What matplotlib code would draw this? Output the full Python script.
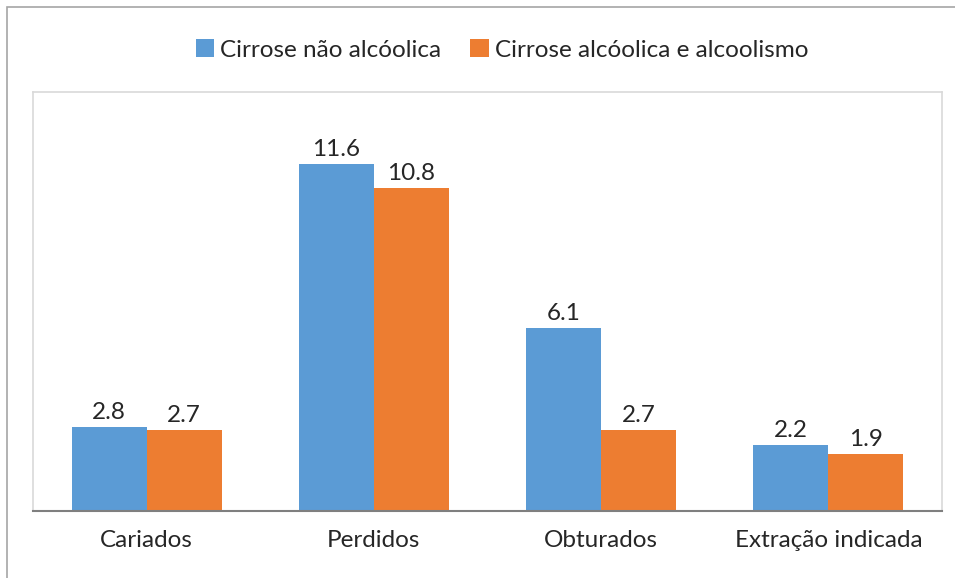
import numpy as np
import matplotlib.pyplot as plt
from matplotlib.patches import Rectangle

plt.rcParams['font.family'] = ['Lato', 'DejaVu Sans']

categories = ["Cariados", "Perdidos", "Obturados", "Extração indicada"]
series_names = ["Cirrose não alcóolica", "Cirrose alcóolica e alcoolismo"]
nao_alcoolica = [2.8, 11.6, 6.1, 2.2]
alcoolica = [2.7, 10.8, 2.7, 1.9]
colors = ["#5B9BD5", "#ED7D31"]

W, H = 955, 578
fig = plt.figure(figsize=(W / 100, H / 100), dpi=100)

# outer chart border
fig.patches.append(Rectangle((7 / W, -0.05), 1.1, 1 - 7 / H + 0.05,
                             transform=fig.transFigure, fill=False,
                             edgecolor="#a6a6a6", linewidth=1.2))

ax = fig.add_axes([33 / W, (H - 511) / H, (942 - 33) / W, (511 - 92) / H])

x = np.arange(len(categories))
width = 0.33
b1 = ax.bar(x - width / 2, nao_alcoolica, width, color=colors[0], label=series_names[0])
b2 = ax.bar(x + width / 2, alcoolica, width, color=colors[1], label=series_names[1])

for bars in (b1, b2):
    ax.bar_label(bars, labels=[f"{v:.1f}" for v in bars.datavalues],
                 padding=3, fontsize=17.5, color="#262626")

ax.set_xlim(-0.5, len(categories) - 0.5)
ax.set_ylim(0, 14)
ax.set_yticks([])
ax.set_xticks(x)
ax.set_xticklabels(categories, fontsize=17.5, color="#262626")
ax.tick_params(axis="x", length=0, pad=14)

for side in ("top", "left", "right"):
    ax.spines[side].set_color("#d9d9d9")
    ax.spines[side].set_linewidth(1.2)
ax.spines["bottom"].set_color("#7f7f7f")
ax.spines["bottom"].set_linewidth(1.5)

fig.legend(loc="center", bbox_to_anchor=(502 / W, 1 - 50 / H), ncol=2,
           frameon=False, fontsize=17.5, handlelength=0.75, handleheight=0.75,
           handletextpad=0.25, columnspacing=1.2, labelcolor="#262626")

fig.savefig("out.png", dpi=100)
